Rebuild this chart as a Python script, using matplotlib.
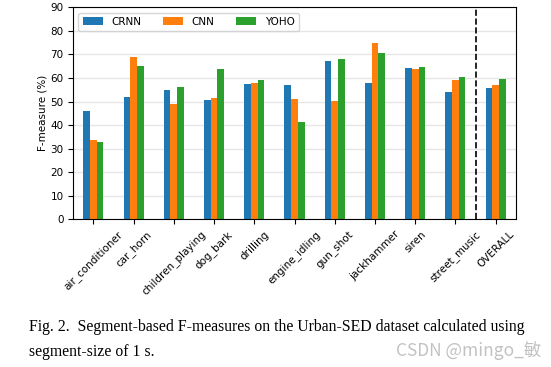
import matplotlib

matplotlib.use("Agg")
import matplotlib.pyplot as plt  # noqa: E402
import numpy as np  # noqa: E402

categories = [
    "air_conditioner", "car_horn", "children_playing", "dog_bark", "drilling",
    "engine_idling", "gun_shot", "jackhammer", "siren", "street_music", "OVERALL",
]
crnn = [46.0, 51.9, 54.9, 50.7, 57.5, 57.0, 67.2, 57.9, 64.2, 54.1, 55.8]
cnn = [33.7, 68.9, 49.0, 51.5, 57.9, 51.1, 50.2, 74.9, 63.8, 59.1, 57.0]
yoho = [32.8, 65.2, 56.2, 63.8, 59.1, 41.2, 68.1, 70.6, 64.7, 60.4, 59.6]
series = [("CRNN", crnn, "#1f77b4"), ("CNN", cnn, "#ff7f0e"), ("YOHO", yoho, "#2ca02c")]

plt.rcParams.update({"font.family": "DejaVu Sans", "font.size": 7.5})

fig = plt.figure(figsize=(5.51, 3.67), dpi=100)
ax = fig.add_axes([0.133, 0.4025, 0.803, 0.5775])

x = np.arange(len(categories))
width = 0.5 / 3
for i, (name, vals, color) in enumerate(series):
    ax.bar(x + (i - 1) * width, vals, width, color=color, label=name, zorder=2)

ax.axvline(len(categories) - 1.5, color="black", linestyle="--", linewidth=1.2, zorder=3)
ax.set_xlim(-0.5, len(categories) - 0.5)
ax.set_ylim(0, 90)
ax.set_yticks(np.arange(0, 91, 10))
ax.set_xticks(x)
ax.set_xticklabels(categories, rotation=45, ha="center")
ax.set_ylabel("F-measure (%)", labelpad=2)
ax.grid(axis="y", color="#e6e6e6", linewidth=1.0, zorder=0)
ax.set_axisbelow(True)
ax.legend(loc="upper left", ncol=3)

fig.text(0.053, 0.109, "Fig. 2.  Segment-based F-measures on the Urban-SED dataset calculated using",
         family="Liberation Serif", fontsize=11.3, va="center")
fig.text(0.053, 0.041, "segment-size of 1 s.",
         family="Liberation Serif", fontsize=11.3, va="center")
fig.text(0.982, 0.045, "CSDN @mingo_敏", family=["Noto Sans CJK SC", "DejaVu Sans"],
         fontsize=12.5, color="#bcbcbc", ha="right", va="center", alpha=0.9)

fig.savefig("out.png", dpi=100)
